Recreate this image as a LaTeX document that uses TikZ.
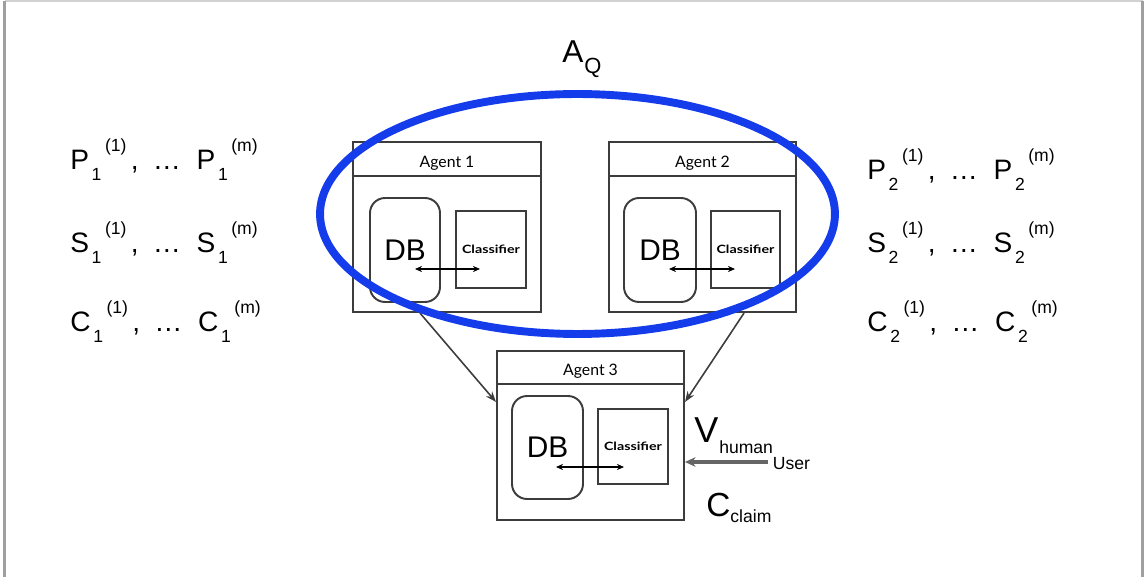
\documentclass[tikz,border=0pt]{standalone}
\usepackage{fontspec}
\usepackage{graphicx}
\setmainfont{Liberation Sans}
\newfontfamily\gill{Lato}
\usetikzlibrary{arrows.meta,calc,shapes.geometric}
\definecolor{ellblue}{RGB}{20,60,235}
\definecolor{boxgray}{RGB}{60,60,60}
\newcommand{\fs}[1]{\fontsize{#1}{#1}\selectfont}
\newcommand{\symb}[3]{#1\hspace{1.5pt}\raisebox{-5.7pt}{\fs{10}#2}\hspace{2pt}\raisebox{10.5pt}{\fs{10}#3}}
\newcommand{\rowtxt}[2]{\symb{#1}{#2}{(1)}\hspace{2.5pt},\hspace{8pt}\ldots\hspace{9pt}\symb{#1}{#2}{(m)}}
\newcommand{\clstxt}{{\gill\bfseries\fs{6.5}\scalebox{1.25}[1]{Classifier}}}
\begin{document}
\begin{tikzpicture}[x=0.02cm,y=-0.02cm,
  agentbox/.style={draw=boxgray,line width=1.2pt,inner sep=0},
  boxline/.style={draw=boxgray,line width=1.2pt},
  hdr/.style={inner sep=0,font=\gill\fs{9}},
  dbbox/.style={draw=boxgray,line width=1.1pt,rounded corners=3mm,inner sep=0,font=\fs{17}},
  clsbox/.style={draw=boxgray,line width=1.2pt,inner sep=0},
  dbl/.style={line width=0.8pt,{Stealth[length=4pt,width=3.5pt]}-{Stealth[length=4pt,width=3.5pt]}},
  conn/.style={draw=boxgray,line width=0.9pt,-{Stealth[length=6pt,width=4.5pt]}},
  varrow/.style={draw=gray!80!black,line width=2pt,-{Stealth[length=6pt,width=5.5pt,fill=black]}},
  lbl/.style={anchor=base west,inner sep=0,font=\fs{16}}
]
\useasboundingbox (0,0) rectangle (1147,577);
% frame
\draw[gray!35,line width=1pt] (4.5,1) -- (1142.5,1);
\draw[gray!75,line width=1.2pt] (4.5,1) -- (4.5,580);
\draw[gray!75,line width=1.2pt] (1142.5,1) -- (1142.5,580);

% agents
\node[agentbox,minimum width=37.6mm,minimum height=34mm] (a1) at (447,227) {};
\node[agentbox,minimum width=37.4mm,minimum height=34mm] (a2) at (702.5,227) {};
\node[agentbox,minimum width=37.4mm,minimum height=33.8mm] (a3) at (590.5,435.5) {};
\draw[boxline] ([yshift=-7mm]a1.north west) -- ([yshift=-7mm]a1.north east);
\draw[boxline] ([yshift=-7mm]a2.north west) -- ([yshift=-7mm]a2.north east);
\draw[boxline] ([yshift=-6.8mm]a3.north west) -- ([yshift=-6.8mm]a3.north east);
\node[hdr] (h1) at ([yshift=-4.5mm]a1.north) {Agent 1};
\node[hdr] (h2) at ([yshift=-4.5mm]a2.north) {Agent 2};
\node[hdr] (h3) at ([yshift=-4.3mm]a3.north) {Agent 3};

% DB and classifier
\node[dbbox,minimum width=14mm,minimum height=20.8mm] (d1) at (405,250) {DB};
\node[clsbox,minimum width=14mm,minimum height=15.4mm] (k1) at (491,249.5) {\clstxt};
\node[dbbox,minimum width=14.4mm,minimum height=20.8mm] (d2) at (660,250) {DB};
\node[clsbox,minimum width=13.8mm,minimum height=15.4mm] (k2) at (745.5,249.5) {\clstxt};
\node[dbbox,minimum width=14.2mm,minimum height=20.6mm] (d3) at (547.5,447.5) {DB};
\node[clsbox,minimum width=14mm,minimum height=15mm] (k3) at (633,446.5) {\clstxt};

\coordinate (d1x) at (415,269); \coordinate (k1x) at (480,269);
\coordinate (d2x) at (669,269); \coordinate (k2x) at (735,269);
\coordinate (d3x) at (556,467); \coordinate (k3x) at (624,467);
\draw[dbl] (d1x) -- (k1x);
\draw[dbl] (d2x) -- (k2x);
\draw[dbl] (d3x) -- (k3x);

% connectors
\draw[conn] ([xshift=13.6mm]a1.south west) -- ([yshift=-10.4mm]a3.north west);
\draw[conn] ([xshift=-10.6mm]a2.south east) -- ([yshift=-10.4mm]a3.north east);

% ellipse
\node[ellipse,draw=ellblue,line width=4.5pt,minimum width=10.3cm,minimum height=4.8cm,inner sep=0] (ell) at (577.5,214) {};

% labels
\node[anchor=base west,inner sep=0] (aq) at (562,63) {\fs{18}A\hspace{0.5pt}\raisebox{-6.2pt}{\fs{12.5}Q}};
\node[lbl] (p1) at (70,170) {\rowtxt{P}{1}};
\node[lbl] (s1) at (70,253) {\rowtxt{S}{1}};
\node[lbl] (c1) at (70,332) {\rowtxt{C}{1}};
\node[lbl] (p2) at (867,180) {\rowtxt{P}{2}};
\node[lbl] (s2) at (867,253) {\rowtxt{S}{2}};
\node[lbl] (c2) at (867,332) {\rowtxt{C}{2}};

\node[anchor=base west,inner sep=0] (vh) at (694,443) {\fs{20.5}V\hspace{0.5pt}\raisebox{-5.7pt}{\fs{10}human}\raisebox{-15.3pt}{\fs{10}User}};
\coordinate (vs) at (768,462);
\draw[varrow] (vs) -- (vs -| a3.east);
\node[anchor=base west,inner sep=0] (cc) at (706,517) {\fs{19}C\raisebox{-3.4pt}{\fs{10}claim}};
\end{tikzpicture}
\end{document}
